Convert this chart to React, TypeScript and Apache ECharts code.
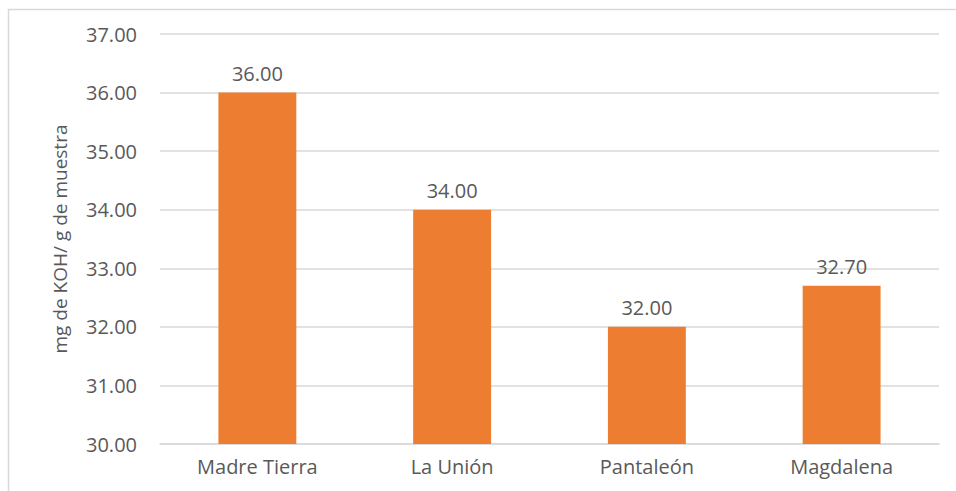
import React, { useEffect, useRef } from "react";
import * as echarts from "echarts";

const categories = ["Madre Tierra", "La Unión", "Pantaleón", "Magdalena"];
const values = [36.0, 34.0, 32.0, 32.7];
const yAxisName = "mg de KOH/ g de muestra";

export default function App() {
  const ref = useRef<HTMLDivElement>(null);
  useEffect(() => {
    if (!ref.current) return;
    const chart = echarts.init(ref.current, null, { renderer: "svg" });
    const font = "'Open Sans', sans-serif";
    chart.setOption({
      animation: false,
      backgroundColor: "#ffffff",
      textStyle: { fontFamily: font },
      graphic: [
        {
          type: "rect",
          shape: { x: 8.5, y: 9.5, width: 1000, height: 1000 },
          style: { fill: "none", stroke: "#d9d9d9", lineWidth: 1.5 },
          silent: true,
        },
      ],
      grid: { left: 160, right: 17, top: 34, bottom: 47 },
      xAxis: {
        type: "category",
        data: categories,
        axisLine: { lineStyle: { color: "#d9d9d9", width: 1.5 } },
        axisTick: { show: false },
        axisLabel: { color: "#595959", fontSize: 20, margin: 12, fontFamily: font },
      },
      yAxis: {
        type: "value",
        min: 30,
        max: 37,
        interval: 1,
        name: yAxisName,
        nameLocation: "middle",
        nameGap: 91,
        nameTextStyle: { color: "#595959", fontSize: 19, fontFamily: font },
        axisLine: { show: false },
        axisTick: { show: false },
        axisLabel: {
          color: "#595959",
          fontSize: 20,
          margin: 23,
          fontFamily: font,
          formatter: (v: number) => v.toFixed(2),
        },
        splitLine: { lineStyle: { color: "#d9d9d9", width: 1.5 } },
      },
      series: [
        {
          type: "bar",
          data: values,
          barWidth: "40%",
          itemStyle: { color: "#ED7D31" },
          label: {
            show: true,
            position: "top",
            distance: 9,
            color: "#595959",
            fontSize: 20,
            fontFamily: font,
            formatter: (p: any) => Number(p.value).toFixed(2),
          },
        },
      ],
    });
    return () => chart.dispose();
  }, []);
  return (
    <div
      ref={ref}
      style={{ position: "absolute", left: 0, top: 0, width: 956, height: 491 }}
    />
  );
}
